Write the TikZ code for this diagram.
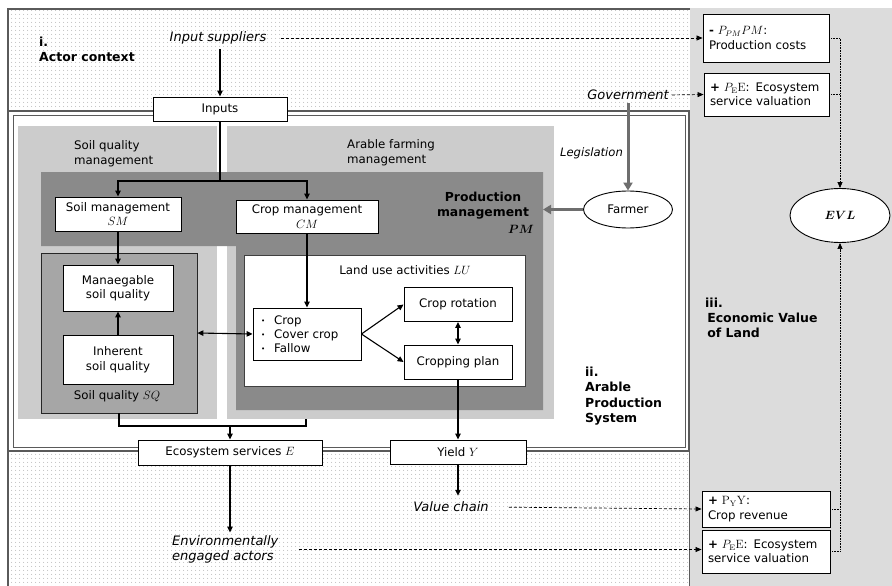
\documentclass[tikz,border=0pt]{standalone}
\usepackage[no-math]{fontspec}
\setmainfont{DejaVu Sans}
\usepackage{bm}
\usetikzlibrary{arrows.meta,patterns.meta,shapes.geometric,calc}

\definecolor{panellight}{HTML}{CCCCCC}
\definecolor{paneldark}{HTML}{8A8A8A}
\definecolor{sqfill}{HTML}{A6A6A6}
\definecolor{colfill}{HTML}{DCDCDC}
\definecolor{framegray}{HTML}{5A5A5A}
\definecolor{govarrow}{HTML}{6E6E6E}

\begin{document}
\begin{tikzpicture}[x=1pt,y=-1pt,
  every node/.style={font=\fontsize{11.8}{14.5}\selectfont, inner sep=0pt},
  box/.style={draw=black, line width=0.9pt, fill=white, align=center},
  rbox/.style={box, align=left},
  act/.style={font=\fontsize{13}{15}\selectfont\itshape, align=left},
  sect/.style={font=\fontsize{12.5}{15.3}\selectfont\bfseries, align=left, anchor=west},
  lbl/.style={align=left, anchor=west},
  arr/.style={line width=1.1pt, -{Triangle[length=6pt,width=5.5pt]}},
  biarr/.style={line width=1.1pt, {Triangle[length=6pt,width=5.5pt]}-{Triangle[length=6pt,width=5.5pt]}},
  link/.style={line width=1.1pt},
  dasharr/.style={line width=0.7pt, dash pattern=on 3pt off 2pt, -{Triangle[length=6pt,width=5pt]}},
  dotlink/.style={line width=0.7pt, dash pattern=on 0.8pt off 0.8pt},
  dotarr/.style={dotlink, -{Triangle[length=6pt,width=5pt]}},
  govarr/.style={draw=govarrow, line width=3pt, -{Triangle[length=8pt,width=9pt]}},
  stipple/.style={pattern={Dots[distance=4pt,radius=0.5pt]}, pattern color=black!38},
]
\useasboundingbox (0,0) rectangle (892,586);
\fill[white] (0,0) rectangle (892,586);

% --- three regions ---------------------------------------------------------
\fill[colfill] (690,8) rectangle (892,586);
\path[stipple] (8,9) rectangle (690,111);
\path[stipple] (8,451) rectangle (690,586);
\draw[framegray, line width=2pt] (8,586) -- (8,9) -- (690,9);
\draw[framegray, line width=0.8pt] (689.5,451) -- (689.5,586);
\fill[white] (8,111) rectangle (689,451);
\draw[framegray, line width=2.5pt] (8,111) rectangle (689,451);
\draw[framegray, line width=0.8pt] (13,115.5) rectangle (685,447);

% --- management panels -----------------------------------------------------
\fill[panellight] (18,126) rectangle (217,419);
\fill[panellight] (227,126) rectangle (554,419);
\fill[paneldark] (41,172) -- (543,172) -- (543,410) -- (236,410) -- (236,246) -- (41,246) -- cycle;
\node[draw=black!85, line width=0.8pt, fill=sqfill, minimum width=156, minimum height=160] (sq) at (119,333) {};
\node[draw=black!75, line width=0.8pt, fill=white, minimum width=281, minimum height=131] (lu) at (384.5,320.5) {};

\node[lbl] at (74,153.5) {Soil quality\\management};
\node[lbl] at (347,152.5) {Arable farming\\management};
\node[font=\fontsize{12.4}{15}\selectfont\bfseries, align=center] at (483,205.5) {Production\\management};
\node at (521,229) {$\bm{PM}$};
\node at (405,270) {Land use activities $LU$};
\node at (117,396) {Soil quality $SQ$};

% --- section titles --------------------------------------------------------
\node[sect] at (39,49.5) {i.\\Actor context};
\node[sect] at (585,396) {ii.\\Arable\\Production\\System};
\node[sect] at (705,318) {iii.\\\,Economic Value\\\,of Land};

% --- boxes -----------------------------------------------------------------
\node[box, minimum width=134, minimum height=24] (inputs) at (220,109) {Inputs};
\node[box, minimum width=126, minimum height=34] (sm) at (118,214) {Soil management\\$SM$};
\node[box, minimum width=142, minimum height=33] (cm) at (307,216.5) {Crop management\\$CM$};
\node[box, minimum width=110, minimum height=46] (manage) at (118,288) {Manaegable\\soil quality};
\node[box, minimum width=110, minimum height=49] (inherent) at (118,359.5) {Inherent\\soil quality};
\node[box, align=left, text width=92pt, minimum width=108, minimum height=52, font=\fontsize{11.8}{14}\selectfont] (uses) at (307,334)
  {\raisebox{1pt}{\fontsize{7}{7}\selectfont\textbullet}\hspace{9pt}Crop\\
   \raisebox{1pt}{\fontsize{7}{7}\selectfont\textbullet}\hspace{9pt}Cover crop\\
   \raisebox{1pt}{\fontsize{7}{7}\selectfont\textbullet}\hspace{9pt}Fallow};
\node[box, minimum width=108, minimum height=34] (rotation) at (458,304.5) {Crop rotation};
\node[box, minimum width=108, minimum height=34] (plan) at (458,362) {Cropping plan};
\node[box, minimum width=184, minimum height=25] (services) at (230,452.5) {Ecosystem services $E$};
\node[box, minimum width=136, minimum height=24] (yield) at (458,452) {Yield $Y$};

\node[rbox, text width=114pt, minimum width=126, minimum height=48] (costs) at (766,38)
  {{\bfseries -} $P_{PM}PM$:\\Production costs};
\node[rbox, text width=113pt, minimum width=125, minimum height=43] (esv1) at (766.5,94.5)
  {{\bfseries +} $P_{\mathrm{E}}\mathrm{E}$: Ecosystem\\service valuation};
\node[rbox, text width=116pt, minimum width=128, minimum height=36] (revenue) at (766,509)
  {{\bfseries +} $\mathrm{P_YY}$:\\Crop revenue};
\node[rbox, text width=116pt, minimum width=128, minimum height=43] (esv2) at (766,551.5)
  {{\bfseries +} $P_{\mathrm{E}}\mathrm{E}$: Ecosystem\\service valuation};

\node[draw, ellipse, line width=0.9pt, fill=white, minimum width=89, minimum height=37] (farmer) at (628,209.5) {Farmer};
\node[draw, ellipse, line width=0.9pt, fill=white, minimum width=100, minimum height=54] (evl) at (840,215.5) {$\bm{EVL}$};

% --- actors ----------------------------------------------------------------
\node[act] (suppliers) at (218,38) {Input suppliers};
\node[act] (government) at (628,95) {Government};
\node[act, font=\fontsize{11.6}{14}\selectfont\itshape] at (591.5,153) {Legislation};
\node[act] (valuechain) at (451,507) {Value chain};
\node[act, anchor=west] (engaged) at (172,549.5) {Environmentally\\engaged actors};

% --- flows inside the production system -------------------------------------
\draw[arr, shorten <=5pt] (inputs.north |- suppliers.south) -- (inputs.north);
\coordinate (split) at (220,181);
\draw[link] (inputs.south) -- (split);
\draw[arr] (split) -| (sm.north);
\draw[arr] (split) -| (cm.north);
\draw[arr] (sm.south) -- (manage.north);
\draw[arr] (inherent.north) -- (manage.south);
\draw[biarr] (sq.east) -- (uses.west);
\draw[arr] (cm.south) -- (uses.north);
\draw[arr] (uses.east) -- (rotation.west);
\draw[arr] (uses.east) -- (plan.west);
\draw[biarr] (rotation.south) -- (plan.north);
\draw[arr] (plan.south) -- (yield.north);
\coordinate (arablefoot) at (306,419);
\coordinate (merge) at (230,426);
\draw[link] (sq.south) |- (merge) -| (arablefoot);
\draw[arr] (merge) -- (services.north);
\draw[arr, shorten >=3pt] (services.south) -- (services.south |- engaged.north);
\draw[arr, shorten >=6pt] (yield.south) -- (yield.south |- valuechain.north);

% --- farmer and legislation ------------------------------------------------
\draw[govarr, shorten <=3pt] (government.south) -- (farmer.north);
\coordinate (pmedge) at (543,209.5);
\draw[govarr] (farmer.west) -- (pmedge);

% --- valuation links -------------------------------------------------------
\draw[dasharr, shorten <=14pt] (suppliers.east) -- (costs.west);
\draw[dasharr, shorten <=3pt] (government.east) -- (esv1.west);
\draw[dasharr, shorten <=20pt] (valuechain.east) -- (revenue.west);
\draw[dasharr, shorten <=20pt] (engaged.east) -- (esv2.west |- engaged.east);

\draw[dotarr] (costs.east) -| (evl.north);
\draw[dotlink] (esv1.east) -- (esv1.east -| evl.north);
\draw[dotarr] (esv2.east) -| (evl.south);
\draw[dotlink] (revenue.east) -- (revenue.east -| evl.south);
\end{tikzpicture}
\end{document}
